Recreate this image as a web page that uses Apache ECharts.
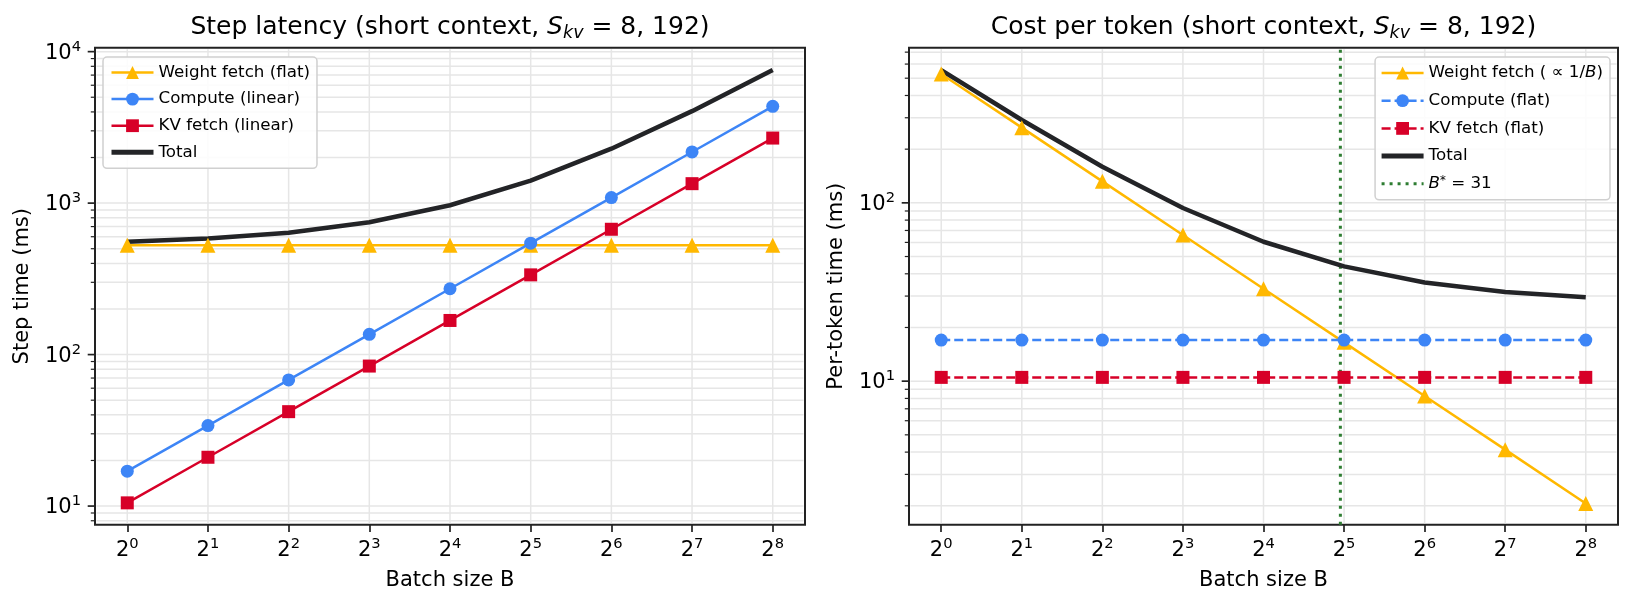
<!DOCTYPE html>
<html><head><meta charset="utf-8">
<script src="https://cdn.jsdelivr.net/npm/echarts@6/dist/echarts.min.js"></script>
<style>html,body{margin:0;padding:0;background:#fff}#c{width:1633px;height:608px}</style>
</head><body><div id="c"></div>
<script>
const FONT = 'DejaVu Sans';

// x positions: batch size B = 2^n
const batchExp = [0, 1, 2, 3, 4, 5, 6, 7, 8];

// Left panel: step latency (ms)
const stepWeight  = [528, 528, 528, 528, 528, 528, 528, 528, 528];
const stepCompute = [17, 34, 68, 136, 272, 544, 1088, 2176, 4352];
const stepKV      = [10.5, 21, 42, 84, 168, 336, 672, 1344, 2688];
const stepTotal   = [555.5, 583, 638, 748, 968, 1408, 2288, 4048, 7568];

// Right panel: per-token time (ms)
const tokWeight  = [528, 264, 132, 66, 33, 16.5, 8.25, 4.13, 2.06];
const tokCompute = [17, 17, 17, 17, 17, 17, 17, 17, 17];
const tokKV      = [10.5, 10.5, 10.5, 10.5, 10.5, 10.5, 10.5, 10.5, 10.5];
const tokTotal   = [555.5, 291.5, 159.5, 93.5, 60.5, 44, 35.75, 31.63, 29.56];

const B_STAR = 31;

// y tick labels (powers of ten)
const leftDecades = [1, 2, 3, 4];
const rightDecades = [1, 2];

// axis extents (log10 space)
const LEFT_Y = [0.877, 4.026];
const RIGHT_Y = [0.195, 2.870];
const X_EXT = [-0.4, 8.4];

const C_W = '#FFB800', C_C = '#3D85F6', C_K = '#D70028', C_T = '#232427', C_G = '#2E7D32';

const pts = arr => arr.map((v, i) => [batchExp[i], Math.log10(v)]);

function logGridValues(ext) {
  const out = [];
  for (let d = Math.floor(ext[0]); d <= Math.ceil(ext[1]); d++) {
    for (let k = 1; k <= 9; k++) {
      const lv = Math.log10(k * Math.pow(10, d));
      if (lv >= ext[0] && lv <= ext[1]) out.push([0, lv, k === 1 ? 1 : 0]);
    }
  }
  return out;
}

function hGridRender(params, api) {
  const cs = params.coordSys;
  const y = api.coord([api.value(0), api.value(1)])[1];
  const major = api.value(2) === 1;
  return {
    type: 'group',
    children: [
      { type: 'line', shape: { x1: cs.x + 1.5, y1: y, x2: cs.x + cs.width - 1.5, y2: y },
        style: { stroke: '#e6e6e6', lineWidth: 1.5 } },
      { type: 'line', shape: { x1: cs.x - (major ? 7.3 : 4.2), y1: y, x2: cs.x - 1, y2: y },
        style: { stroke: '#222', lineWidth: major ? 1.7 : 1.2 } }
    ]
  };
}
function vGridRender(params, api) {
  const cs = params.coordSys;
  const x = api.coord([api.value(0), api.value(1)])[0];
  return { type: 'line', shape: { x1: x, y1: cs.y + 1.5, x2: x, y2: cs.y + cs.height - 1.5 },
           style: { stroke: '#e6e6e6', lineWidth: 1.5 } };
}

const tickRich = {
  b: { fontFamily: FONT, fontSize: 21, lineHeight: 24, verticalAlign: 'bottom', color: '#000' },
  s: { fontFamily: FONT, fontSize: 14.7, lineHeight: 14, verticalAlign: 'top', color: '#000' }
};

function xAxisCfg(gi) {
  return {
    type: 'value', gridIndex: gi, min: X_EXT[0], max: X_EXT[1],
    name: 'Batch size B', nameLocation: 'middle', nameGap: 45,
    nameTextStyle: { fontFamily: FONT, fontSize: 21, color: '#000' },
    axisLine: { show: false },
    splitLine: { show: false },
    axisTick: { show: true, customValues: batchExp, length: 7.3, lineStyle: { color: '#222', width: 1.7 } },
    axisLabel: { customValues: batchExp, margin: 12, formatter: v => '{b|2}{s|' + Math.round(v) + '}', rich: tickRich }
  };
}
function yAxisCfg(gi, ext, decades, name) {
  return {
    type: 'value', gridIndex: gi, min: ext[0], max: ext[1],
    name: name, nameLocation: 'middle', nameGap: 62,
    nameTextStyle: { fontFamily: FONT, fontSize: 21, color: '#000' },
    axisLine: { show: false },
    splitLine: { show: false },
    axisTick: { show: false },
    axisLabel: { customValues: decades, margin: 14, formatter: v => '{b|10}{s|' + Math.round(v) + '}', rich: tickRich }
  };
}

function lineSeries(name, gi, arr, color, symbol, size, dashed, width) {
  return {
    type: 'line', name: name, xAxisIndex: gi, yAxisIndex: gi, data: pts(arr),
    symbol: symbol, symbolSize: size, showSymbol: symbol !== 'none',
    z: 3,
    lineStyle: { color: color, width: width || 2.5, type: dashed ? [9, 4] : 'solid' },
    itemStyle: { color: color },
    emphasis: { disabled: true }
  };
}

const legendRich = {
  i: { fontFamily: FONT, fontStyle: 'italic', fontSize: 16.7, lineHeight: 18, color: '#000' },
  sup: { fontFamily: FONT, fontSize: 11.7, lineHeight: 10, verticalAlign: 'top', color: '#000' },
  n: { fontFamily: FONT, fontSize: 16.7, lineHeight: 18, color: '#000' }
};
const legendFmt = name => ({
  'Weight fetch (∝1/B)': 'Weight fetch ( ∝ 1/{i|B})',
  'B* = 31': '{i|B}{sup|*}{n| = 31}'
}[name] || name);

const legendBase = {
  orient: 'vertical', itemWidth: 42, itemHeight: 16, selectedMode: false,
  backgroundColor: 'rgba(255,255,255,0.85)', borderColor: '#d0d0d0', borderWidth: 1.5, borderRadius: 4,
  textStyle: { fontFamily: FONT, fontSize: 16.7, lineHeight: 18, color: '#000', rich: legendRich },
  formatter: legendFmt
};
const noMarker = { opacity: 0 };
const totalLegend = { name: 'Total', itemStyle: noMarker, lineStyle: { width: 5, color: C_T } };
const legendLine = (c, dashed) => ({ width: 2.5, color: c, type: dashed ? [9, 4] : 'solid' });

const titleRich = {
  t: { fontFamily: FONT, fontSize: 25, lineHeight: 30, color: '#000' },
  i: { fontFamily: FONT, fontSize: 25, lineHeight: 30, fontStyle: 'italic', color: '#000' },
  sub: { fontFamily: FONT, fontSize: 17.5, lineHeight: 12, verticalAlign: 'bottom', fontStyle: 'italic', color: '#000' }
};

const option = {
  animation: false,
  backgroundColor: '#fff',
  grid: [
    { left: 95, top: 47.7, width: 710, height: 477, show: true, borderColor: '#222', borderWidth: 2, backgroundColor: 'transparent' },
    { left: 909, top: 47.7, width: 709, height: 477, show: true, borderColor: '#222', borderWidth: 2, backgroundColor: 'transparent' }
  ],
  xAxis: [xAxisCfg(0), xAxisCfg(1)],
  yAxis: [yAxisCfg(0, LEFT_Y, leftDecades, 'Step time (ms)'), yAxisCfg(1, RIGHT_Y, rightDecades, 'Per-token time (ms)')],
  legend: [
    Object.assign({}, legendBase, {
      left: 103, top: 57, itemGap: 8.6, padding: [6.5, 7, 7, 6],
      data: [
        { name: 'Weight fetch (flat)', lineStyle: legendLine(C_W, false) },
        { name: 'Compute (linear)', lineStyle: legendLine(C_C, false) },
        { name: 'KV fetch (linear)', lineStyle: legendLine(C_K, false) },
        totalLegend
      ]
    }),
    Object.assign({}, legendBase, {
      right: 23, top: 57, itemGap: 9.7, padding: [7, 7, 7, 4],
      data: [
        { name: 'Weight fetch (∝1/B)', lineStyle: legendLine(C_W, false) },
        { name: 'Compute (flat)', lineStyle: legendLine(C_C, true) },
        { name: 'KV fetch (flat)', lineStyle: legendLine(C_K, true) },
        totalLegend,
        { name: 'B* = 31', itemStyle: noMarker, lineStyle: { width: 3, color: C_G, type: [3, 5] } }
      ]
    })
  ],
  graphic: [
    { type: 'text', x: 450, y: 27, silent: true,
      style: { text: '{t|Step latency (short context, }{i|S}{sub|kv}{t| = 8, 192)}', rich: titleRich, align: 'center', verticalAlign: 'middle', fill: '#000' } },
    { type: 'text', x: 1263.5, y: 27, silent: true,
      style: { text: '{t|Cost per token (short context, }{i|S}{sub|kv}{t| = 8, 192)}', rich: titleRich, align: 'center', verticalAlign: 'middle', fill: '#000' } }
  ],
  series: [
    { type: 'custom', xAxisIndex: 0, yAxisIndex: 0, data: logGridValues(LEFT_Y), renderItem: hGridRender, clip: false, silent: true, z: 1, encode: { x: 0, y: 1 } },
    { type: 'custom', xAxisIndex: 0, yAxisIndex: 0, data: batchExp.map(e => [e, LEFT_Y[0]]), renderItem: vGridRender, clip: false, silent: true, z: 1, encode: { x: 0, y: 1 } },
    { type: 'custom', xAxisIndex: 1, yAxisIndex: 1, data: logGridValues(RIGHT_Y), renderItem: hGridRender, clip: false, silent: true, z: 1, encode: { x: 0, y: 1 } },
    { type: 'custom', xAxisIndex: 1, yAxisIndex: 1, data: batchExp.map(e => [e, RIGHT_Y[0]]), renderItem: vGridRender, clip: false, silent: true, z: 1, encode: { x: 0, y: 1 } },

    lineSeries('Weight fetch (flat)', 0, stepWeight, C_W, 'triangle', 15, false),
    lineSeries('Compute (linear)', 0, stepCompute, C_C, 'circle', 13, false),
    lineSeries('KV fetch (linear)', 0, stepKV, C_K, 'rect', 13, false),
    lineSeries('Total', 0, stepTotal, C_T, 'none', 0, false, 4.5),

    lineSeries('Weight fetch (∝1/B)', 1, tokWeight, C_W, 'triangle', 15, false),
    lineSeries('Compute (flat)', 1, tokCompute, C_C, 'circle', 13, true),
    lineSeries('KV fetch (flat)', 1, tokKV, C_K, 'rect', 13, true),
    lineSeries('Total', 1, tokTotal, C_T, 'none', 0, false, 4.5),
    {
      type: 'line', name: 'B* = 31', xAxisIndex: 1, yAxisIndex: 1, z: 2,
      data: [[Math.log2(B_STAR), RIGHT_Y[0]], [Math.log2(B_STAR), RIGHT_Y[1]]],
      symbol: 'none', showSymbol: false,
      lineStyle: { color: C_G, width: 3, type: [3, 5], cap: 'butt' },
      itemStyle: { color: C_G },
      emphasis: { disabled: true }
    }
  ]
};

const chart = echarts.init(document.getElementById('c'));
chart.setOption(option);
</script></body></html>
